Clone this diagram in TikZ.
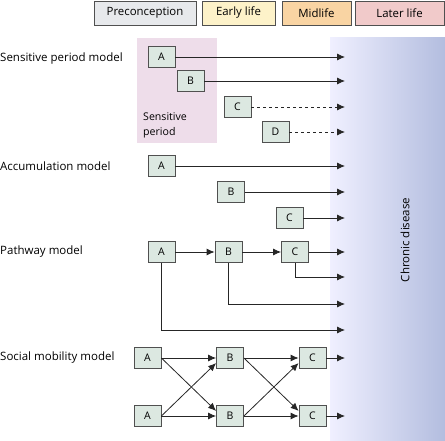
\documentclass[tikz,border=0pt]{standalone}
\usepackage{fontspec}
\setmainfont{Open Sans}
\usepackage{tikz}
\usetikzlibrary{arrows.meta}
\tikzset{>={Latex[length=8pt,width=7pt]}}

\definecolor{boxgreen}{HTML}{DCE8E1}
\definecolor{framegray}{HTML}{505050}
\definecolor{sensepink}{HTML}{EEDDEA}
\definecolor{preccol}{HTML}{E7E9EC}
\definecolor{earlycol}{HTML}{FDF2C9}
\definecolor{midcol}{HTML}{F9D4A3}
\definecolor{latercol}{HTML}{F1CACA}
\tikzset{
  factor/.style={draw=framegray,fill=boxgreen,line width=0.8pt,minimum width=27pt,minimum height=21pt,inner sep=0pt,font=\fontsize{10.5}{12}\selectfont},
  stage/.style={draw=framegray,line width=0.8pt,minimum height=24pt,inner sep=0pt,font=\fontsize{11.4}{13}\selectfont},
  model/.style={anchor=west,inner sep=0pt,font=\fontsize{11.5}{13}\selectfont},
  link/.style={->,line width=0.8pt,black!85}
}

\begin{document}
\begin{tikzpicture}[x=1pt,y=-1pt]
\useasboundingbox (0,0) rectangle (445,441);
% stages of life
\node [stage,fill=preccol,minimum width=102pt] (prec) at (145,13) {Preconception};
\node [stage,fill=earlycol,minimum width=73pt] (early) at (238.5,13) {Early life};
\node [stage,fill=midcol,minimum width=69pt] (mid) at (316.5,13) {Midlife};
\node [stage,fill=latercol,minimum width=89pt] (later) at (399.5,13) {Later life};
% backgrounds
\fill [sensepink] (137,38) rectangle (217,143);
\shade [left color=blue!6!white,right color={rgb,255:red,179;green,189;blue,223}] (330,38) rectangle (445,441);
\node [rotate=90,font=\fontsize{11.5}{13}\selectfont] (chronic) at (405,240) {Chronic disease};
\node [anchor=north west,align=left,inner sep=0pt,font=\fontsize{10.6}{15}\selectfont] (sense) at (143,113) {Sensitive\\period};
\coordinate (end) at (345,0);

% sensitive period model
\node [model] (spm) at (0,59) {Sensitive period model};
\node [factor] (spA) at (161.5,57) {A};
\node [factor] (spB) at (190.5,81) {B};
\node [factor] (spC) at (237.5,107) {C};
\node [factor] (spD) at (275.5,132) {D};
\draw [link] (spA) -- (spA -| end);
\draw [link] (spB) -- (spB -| end);
\draw [link,dashed] (spC) -- (spC -| end);
\draw [link,dashed] (spD) -- (spD -| end);

% accumulation model
\node [model] (acm) at (0,166) {Accumulation model};
\node [factor] (acA) at (161.5,166) {A};
\node [factor] (acB) at (231,192) {B};
\node [factor] (acC) at (289.5,218) {C};
\draw [link] (acA) -- (acA -| end);
\draw [link] (acB) -- (acB -| end);
\draw [link] (acC) -- (acC -| end);

% pathway model
\node [model] (pam) at (0,252) {Pathway model};
\node [factor] (paA) at (161.5,252) {A};
\node [factor] (paB) at (228.5,252) {B};
\node [factor] (paC) at (295,252) {C};
\coordinate (paCend) at (345,277);
\coordinate (paBend) at (345,304);
\coordinate (paAend) at (345,330);
\draw [link] (paA) -- (paB);
\draw [link] (paB) -- (paC);
\draw [link] (paC) -- (paC -| end);
\draw [link] (paC.south) |- (paCend);
\draw [link] (paB.south) |- (paBend);
\draw [link] (paA.south) |- (paAend);

% social mobility model
\node [model] (smm) at (0,358) {Social mobility model};
\node [factor] (smA1) at (147.5,358) {A};
\node [factor] (smB1) at (230,358) {B};
\node [factor] (smC1) at (312.5,358) {C};
\node [factor] (smA2) at (147.5,416) {A};
\node [factor] (smB2) at (230,416) {B};
\node [factor] (smC2) at (312.5,416) {C};
\draw [link] (smA1) -- (smB1);
\draw [link] (smA2) -- (smB2);
\draw [link] (smA1.east) -- (smB2.160);
\draw [link] (smA2.east) -- (smB1.200);
\draw [link] (smB1) -- (smC1);
\draw [link] (smB2) -- (smC2);
\draw [link] (smB1.east) -- (smC2.160);
\draw [link] (smB2.east) -- (smC1.200);
\draw [link] (smC1) -- (smC1 -| end);
\draw [link] (smC2) -- (smC2 -| end);
\end{tikzpicture}
\end{document}
